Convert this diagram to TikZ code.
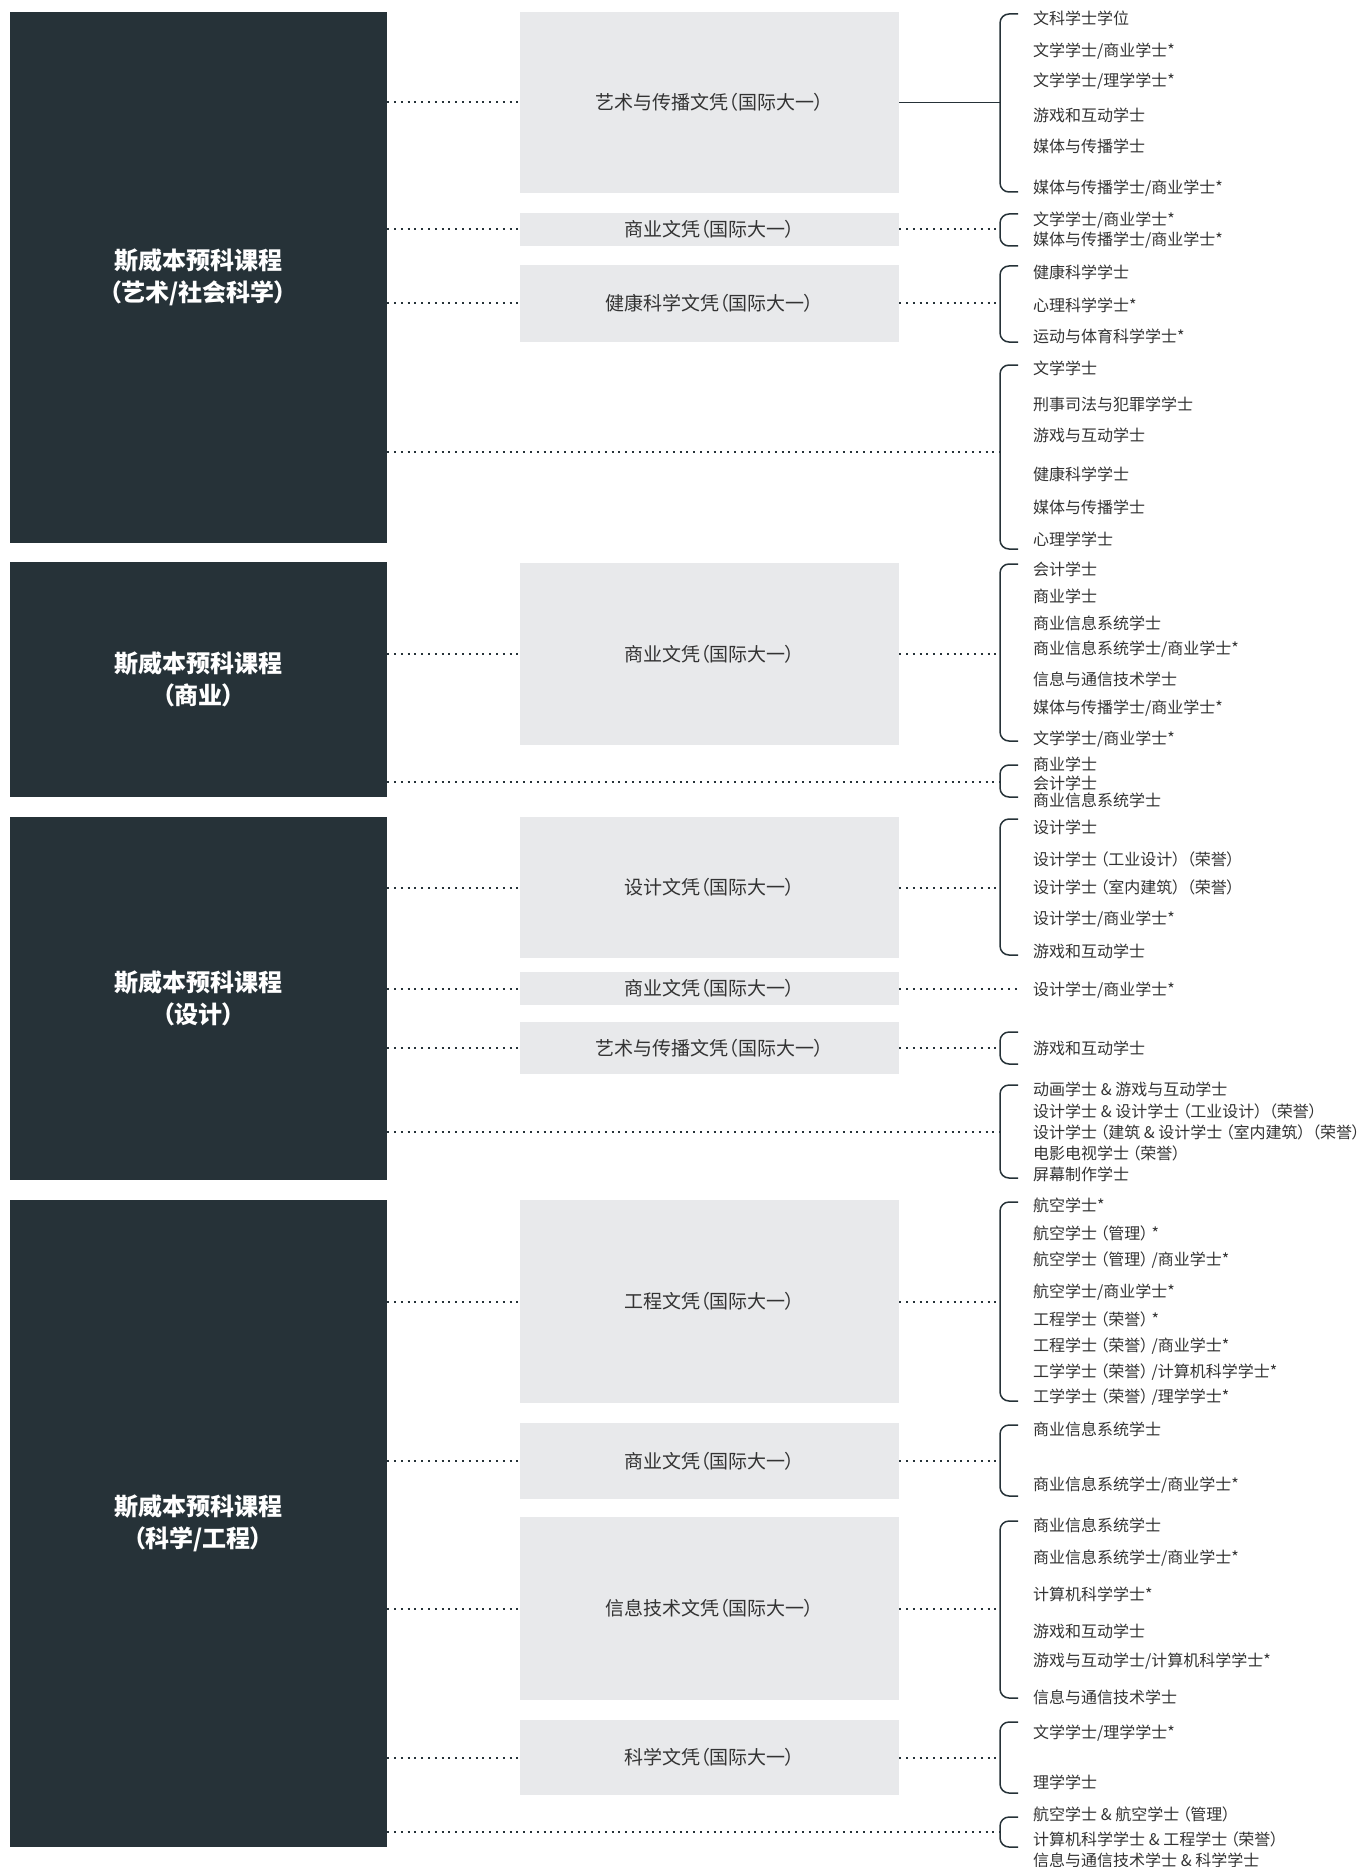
\documentclass[tikz,border=0pt]{standalone}
\usepackage{fontspec}
\newfontfamily\cjk{Noto Sans CJK SC}[RawFeature=+palt]
\usepackage{tikz}
\definecolor{slate}{HTML}{263238}
\definecolor{panel}{HTML}{E8E9EB}
\definecolor{ink}{HTML}{333333}
\newcommand{\lpw}{\kern.2em（}
\newcommand{\rpw}{）\kern.2em}
\tikzstyle{program}=[fill=slate, text=white, font=\cjk\bfseries\fontsize{24}{32}\selectfont, align=center, minimum width=377.5pt, inner sep=0pt]
\tikzstyle{diploma}=[fill=panel, text=ink, font=\cjk\fontsize{19}{23}\selectfont, minimum width=379pt, inner sep=0pt]
\tikzstyle{degree}=[anchor=west, text=ink, font=\cjk\fontsize{16}{19}\selectfont, inner sep=0pt]
\tikzstyle{link}=[draw=slate, line width=2pt, line cap=butt, dash pattern=on 2pt off 4.8pt]
\tikzstyle{brace}=[draw=slate, line width=1.5pt, rounded corners=9pt]
\tikzstyle{stem}=[draw=slate, line width=1.5pt]

\begin{document}
\begin{tikzpicture}[x=1pt, y=-1pt]
	\useasboundingbox (0,0) rectangle (1370,1867);
	% programmes
	\begin{scope}
		\node (p1) at (198.25, 277.5)[program, minimum height=531pt] {斯威本预科课程\\（艺术/社会科学）};
		\node (p2) at (198.25, 679.5)[program, minimum height=235pt] {斯威本预科课程\\（商业）};
		\node (p3) at (198.25, 998.5)[program, minimum height=363pt] {斯威本预科课程\\（设计）};
		\node (p4) at (198.25, 1523.5)[program, minimum height=647pt] {斯威本预科课程\\（科学/工程）};
	\end{scope}
	% diplomas
	\begin{scope}
		\node (a1) at (709.5, 102.5)[diploma, minimum height=181pt] {艺术与传播文凭（国际大一）};
		\node (a2) at (709.5, 229.5)[diploma, minimum height=33pt] {商业文凭（国际大一）};
		\node (a3) at (709.5, 303.5)[diploma, minimum height=77pt] {健康科学文凭（国际大一）};
		\node (b1) at (709.5, 654)[diploma, minimum height=182pt] {商业文凭（国际大一）};
		\node (c1) at (709.5, 887.5)[diploma, minimum height=141pt] {设计文凭（国际大一）};
		\node (c2) at (709.5, 988.5)[diploma, minimum height=33pt] {商业文凭（国际大一）};
		\node (c3) at (709.5, 1048)[diploma, minimum height=52pt] {艺术与传播文凭（国际大一）};
		\node (d1) at (709.5, 1301.5)[diploma, minimum height=203pt] {工程文凭（国际大一）};
		\node (d2) at (709.5, 1461)[diploma, minimum height=76pt] {商业文凭（国际大一）};
		\node (d3) at (709.5, 1608.5)[diploma, minimum height=183pt] {信息技术文凭（国际大一）};
		\node (d4) at (709.5, 1757.5)[diploma, minimum height=75pt] {科学文凭（国际大一）};
	\end{scope}
	% junctions on the braces
	\begin{scope}
		\coordinate (ja1) at (1000, 102.5);
		\coordinate (ja2) at (1000, 229.5);
		\coordinate (ja3) at (1000, 303.5);
		\coordinate (ja4) at (1000, 452);
		\coordinate (jb1) at (1000, 654);
		\coordinate (jb2) at (1000, 782);
		\coordinate (jc1) at (1000, 887.5);
		\coordinate (jc2) at (1017, 988.5);
		\coordinate (jc3) at (1000, 1048);
		\coordinate (jc4) at (1000, 1132);
		\coordinate (jd1) at (1000, 1301.5);
		\coordinate (jd2) at (1000, 1461);
		\coordinate (jd3) at (1000, 1608.5);
		\coordinate (jd4) at (1000, 1757.5);
		\coordinate (jd5) at (1000, 1832);
	\end{scope}
	% braces
	\begin{scope}
		\draw[brace] (1018, 14) -| (1000, 192) -- (1018, 192);
		\draw[brace] (1018, 214) -| (1000, 246) -- (1018, 246);
		\draw[brace] (1018, 266) -| (1000, 342) -- (1018, 342);
		\draw[brace] (1018, 365) -| (1000, 549) -- (1018, 549);
		\draw[brace] (1018, 564) -| (1000, 741) -- (1018, 741);
		\draw[brace] (1018, 765) -| (1000, 797) -- (1018, 797);
		\draw[brace] (1018, 819) -| (1000, 955) -- (1018, 955);
		\draw[brace] (1018, 1032) -| (1000, 1064) -- (1018, 1064);
		\draw[brace] (1018, 1085) -| (1000, 1178) -- (1018, 1178);
		\draw[brace] (1018, 1202) -| (1000, 1401) -- (1018, 1401);
		\draw[brace] (1018, 1425) -| (1000, 1496) -- (1018, 1496);
		\draw[brace] (1018, 1521) -| (1000, 1698) -- (1018, 1698);
		\draw[brace] (1018, 1722) -| (1000, 1793) -- (1018, 1793);
		\draw[brace] (1018, 1817) -| (1000, 1847) -- (1018, 1847);
	\end{scope}
	% connectors
	\begin{scope}
		\path[link] (a1.west -| p1.east) edge (a1.west);
		\path[link] (a2.west -| p1.east) edge (a2.west);
		\path[link] (a3.west -| p1.east) edge (a3.west);
		\path[link] (ja4 -| p1.east) edge (ja4);
		\path[link] (b1.west -| p2.east) edge (b1.west);
		\path[link] (jb2 -| p2.east) edge (jb2);
		\path[link] (c1.west -| p3.east) edge (c1.west);
		\path[link] (c2.west -| p3.east) edge (c2.west);
		\path[link] (c3.west -| p3.east) edge (c3.west);
		\path[link] (jc4 -| p3.east) edge (jc4);
		\path[link] (d1.west -| p4.east) edge (d1.west);
		\path[link] (d2.west -| p4.east) edge (d2.west);
		\path[link] (d3.west -| p4.east) edge (d3.west);
		\path[link] (d4.west -| p4.east) edge (d4.west);
		\path[link] (jd5 -| p4.east) edge (jd5);
		\path[stem] (a1.east) edge (ja1);
		\path[link] (a2.east) edge (ja2);
		\path[link] (a3.east) edge (ja3);
		\path[link] (b1.east) edge (jb1);
		\path[link] (c1.east) edge (jc1);
		\path[link] (c2.east) edge (jc2);
		\path[link] (c3.east) edge (jc3);
		\path[link] (d1.east) edge (jd1);
		\path[link] (d2.east) edge (jd2);
		\path[link] (d3.east) edge (jd3);
		\path[link] (d4.east) edge (jd4);
	\end{scope}
	% degrees
	\begin{scope}
		\node (a1x1) at (1033, 18)[degree] {文科学士学位};
		\node (a1x2) at (1033, 51)[degree] {文学学士/商业学士*};
		\node (a1x3) at (1033, 81)[degree] {文学学士/理学学士*};
		\node (a1x4) at (1033, 115)[degree] {游戏和互动学士};
		\node (a1x5) at (1033, 146)[degree] {媒体与传播学士};
		\node (a1x6) at (1033, 188)[degree] {媒体与传播学士/商业学士*};
		\node (a2x1) at (1033, 220)[degree] {文学学士/商业学士*};
		\node (a2x2) at (1033, 240)[degree] {媒体与传播学士/商业学士*};
		\node (a3x1) at (1033, 272)[degree] {健康科学学士};
		\node (a3x2) at (1033, 305)[degree] {心理科学学士*};
		\node (a3x3) at (1033, 336)[degree] {运动与体育科学学士*};
		\node (a4x1) at (1033, 368)[degree] {文学学士};
		\node (a4x2) at (1033, 404)[degree] {刑事司法与犯罪学学士};
		\node (a4x3) at (1033, 435)[degree] {游戏与互动学士};
		\node (a4x4) at (1033, 474)[degree] {健康科学学士};
		\node (a4x5) at (1033, 507)[degree] {媒体与传播学士};
		\node (a4x6) at (1033, 539)[degree] {心理学学士};
		\node (b1x1) at (1033, 569)[degree] {会计学士};
		\node (b1x2) at (1033, 596)[degree] {商业学士};
		\node (b1x3) at (1033, 623)[degree] {商业信息系统学士};
		\node (b1x4) at (1033, 649)[degree] {商业信息系统学士/商业学士*};
		\node (b1x5) at (1033, 679)[degree] {信息与通信技术学士};
		\node (b1x6) at (1033, 708)[degree] {媒体与传播学士/商业学士*};
		\node (b1x7) at (1033, 739)[degree] {文学学士/商业学士*};
		\node (b2x1) at (1033, 764)[degree] {商业学士};
		\node (b2x2) at (1033, 783)[degree] {会计学士};
		\node (b2x3) at (1033, 800)[degree] {商业信息系统学士};
		\node (c1x1) at (1033, 827.5)[degree] {设计学士};
		\node (c1x2) at (1033, 859)[degree] {设计学士\lpw 工业设计\rpw\lpw 荣誉\rpw};
		\node (c1x3) at (1033, 887.5)[degree] {设计学士\lpw 室内建筑\rpw\lpw 荣誉\rpw};
		\node (c1x4) at (1033, 919)[degree] {设计学士/商业学士*};
		\node (c1x5) at (1033, 951)[degree] {游戏和互动学士};
		\node (c2x1) at (1033, 990)[degree] {设计学士/商业学士*};
		\node (c3x1) at (1033, 1048)[degree] {游戏和互动学士};
		\node (c4x1) at (1033, 1089)[degree] {动画学士 \& 游戏与互动学士};
		\node (c4x2) at (1033, 1111)[degree] {设计学士 \& 设计学士\lpw 工业设计\rpw\lpw 荣誉\rpw};
		\node (c4x3) at (1033, 1132)[degree] {设计学士\lpw 建筑 \& 设计学士\lpw 室内建筑\rpw\lpw 荣誉\rpw};
		\node (c4x4) at (1033, 1153)[degree] {电影电视学士\lpw 荣誉\rpw};
		\node (c4x5) at (1033, 1174)[degree] {屏幕制作学士};
		\node (d1x1) at (1033, 1205)[degree] {航空学士*};
		\node (d1x2) at (1033, 1233)[degree] {航空学士\lpw 管理\rpw *};
		\node (d1x3) at (1033, 1260)[degree] {航空学士\lpw 管理\rpw/商业学士*};
		\node (d1x4) at (1033, 1292)[degree] {航空学士/商业学士*};
		\node (d1x5) at (1033, 1319)[degree] {工程学士\lpw 荣誉\rpw *};
		\node (d1x6) at (1033, 1346)[degree] {工程学士\lpw 荣誉\rpw/商业学士*};
		\node (d1x7) at (1033, 1372)[degree] {工学学士\lpw 荣誉\rpw/计算机科学学士*};
		\node (d1x8) at (1033, 1397)[degree] {工学学士\lpw 荣誉\rpw/理学学士*};
		\node (d2x1) at (1033, 1429)[degree] {商业信息系统学士};
		\node (d2x2) at (1033, 1485)[degree] {商业信息系统学士/商业学士*};
		\node (d3x1) at (1033, 1525)[degree] {商业信息系统学士};
		\node (d3x2) at (1033, 1558)[degree] {商业信息系统学士/商业学士*};
		\node (d3x3) at (1033, 1594)[degree] {计算机科学学士*};
		\node (d3x4) at (1033, 1631)[degree] {游戏和互动学士};
		\node (d3x5) at (1033, 1661)[degree] {游戏与互动学士/计算机科学学士*};
		\node (d3x6) at (1033, 1697)[degree] {信息与通信技术学士};
		\node (d4x1) at (1033, 1733)[degree] {文学学士/理学学士*};
		\node (d4x2) at (1033, 1782)[degree] {理学学士};
		\node (d5x1) at (1033, 1814.5)[degree] {航空学士 \& 航空学士\lpw 管理\rpw};
		\node (d5x2) at (1033, 1839.5)[degree] {计算机科学学士 \& 工程学士\lpw 荣誉\rpw};
		\node (d5x3) at (1033, 1860)[degree] {信息与通信技术学士 \& 科学学士};
	\end{scope}
\end{tikzpicture}
\end{document}
